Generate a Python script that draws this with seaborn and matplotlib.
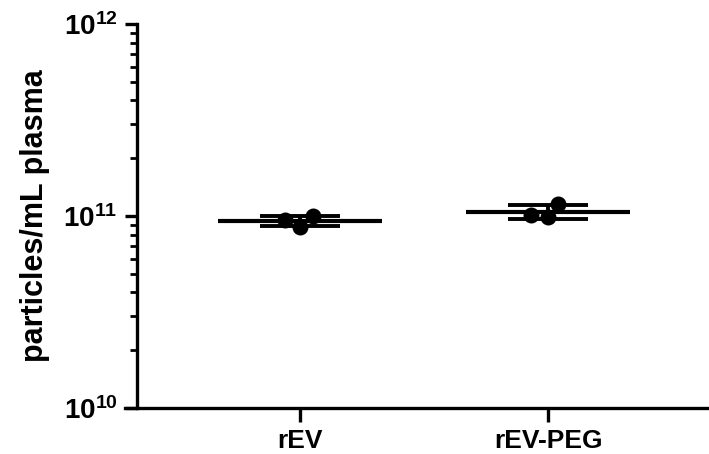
import numpy as np
import pandas as pd
import seaborn as sns
import matplotlib.pyplot as plt
from matplotlib.ticker import FuncFormatter, LogLocator

# values (particles/mL plasma)
groups = ['rEV', 'rEV-PEG']
rev_vals = [1.00e11, 0.88e11, 0.953e11]
rev_peg_vals = [1.155e11, 0.988e11, 1.012e11]

df = pd.DataFrame({
    'group': ['rEV'] * len(rev_vals) + ['rEV-PEG'] * len(rev_peg_vals),
    'value': rev_vals + rev_peg_vals,
})
means = df.groupby('group')['value'].mean().reindex(groups).values
sds = df.groupby('group')['value'].std().reindex(groups).values

sns.set_style('ticks')
plt.rcParams['font.family'] = ['Liberation Sans', 'DejaVu Sans']
plt.rcParams['font.weight'] = 'bold'
plt.rcParams['mathtext.fontset'] = 'custom'
plt.rcParams['mathtext.rm'] = 'Liberation Sans:bold'
plt.rcParams['mathtext.bf'] = 'Liberation Sans:bold'
for k in ['axes.edgecolor', 'xtick.color', 'ytick.color', 'text.color',
          'axes.labelcolor', 'xtick.labelcolor', 'ytick.labelcolor']:
    plt.rcParams[k] = 'black'

fig = plt.figure(figsize=(7.09, 4.54), dpi=100)
ax = fig.add_axes([125 / 709, 1 - 408 / 454, 584 / 709, 384 / 454])
ax.set_yscale('log')

sns.swarmplot(data=df, x='group', y='value', order=groups, color='black',
              size=11.5, ax=ax, zorder=4)

pos = np.arange(len(groups))
ax.hlines(means, pos - 0.33, pos + 0.33, color='black', lw=3, zorder=3)
ax.errorbar(pos, means, yerr=sds, fmt='none', ecolor='black', elinewidth=2.8,
            capsize=29, capthick=2.8, zorder=3)

ax.set_ylim(1e10, 1e12)
ax.set_xlim(-0.706, 1.649)
ax.spines['left'].set_position(('data', -0.657))
sns.despine(ax=ax)
for s in ['left', 'bottom']:
    ax.spines[s].set_linewidth(2.4)

ax.yaxis.set_major_locator(LogLocator(base=10, numticks=5))
ax.yaxis.set_minor_locator(LogLocator(base=10, subs=np.arange(2, 10), numticks=12))
ax.yaxis.set_major_formatter(FuncFormatter(lambda v, p: r'$\mathrm{10^{%d}}$' % round(np.log10(v))))
ax.yaxis.set_minor_formatter(FuncFormatter(lambda v, p: ''))
ax.tick_params(axis='y', which='major', length=9, width=2.4, labelsize=20, pad=5)
ax.tick_params(axis='y', which='minor', length=5, width=2)
ax.tick_params(axis='x', length=10, width=2.4, labelsize=19, pad=5)

ax.set_xlabel('')
ax.set_ylabel('particles/mL plasma', fontsize=22, fontweight='bold', labelpad=10)

fig.savefig('out.png', dpi=100)
